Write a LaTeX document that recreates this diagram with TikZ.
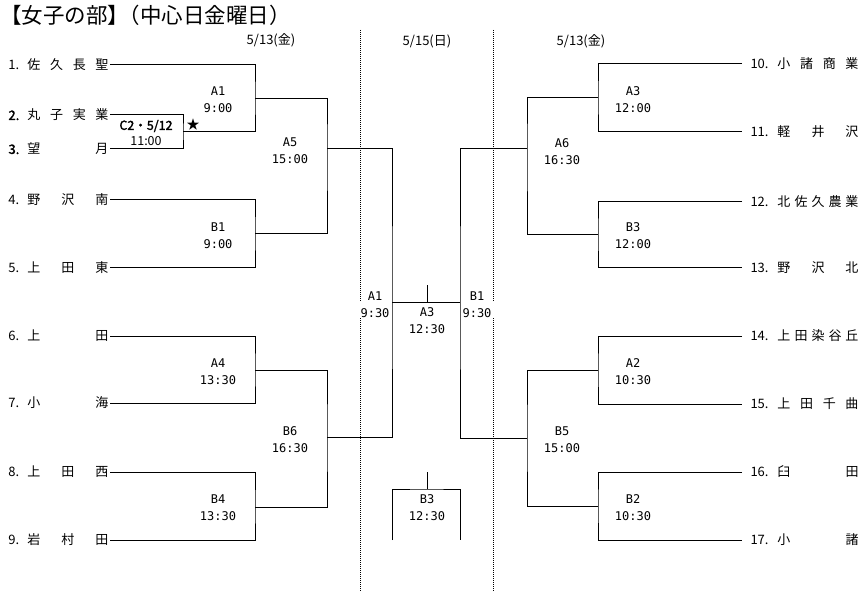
\documentclass[tikz,border=0pt]{standalone}
\usepackage{fontspec}
\setmainfont{Noto Sans CJK JP}[AutoFakeBold=2]
\newfontfamily\gamefont{DejaVu Sans Mono}
\newcommand{\tmL}[2]{\makebox[19pt][l]{#1}\makebox[81pt][s]{#2}}
\newcommand{\tmR}[2]{\makebox[27pt][l]{#1}\makebox[81pt][s]{#2}}

\begin{document}
\begin{tikzpicture}[x=1pt,y=-1pt,line width=1pt,font=\fontsize{13pt}{17pt}\selectfont]
        \tikzstyle{teamL}=[anchor=west,inner xsep=1pt,inner ysep=0pt]
        \tikzstyle{teamR}=[anchor=west,inner xsep=8pt,inner ysep=0pt]
        \tikzstyle{game}=[align=center,inner sep=0pt,font=\gamefont\fontsize{12pt}{17pt}\selectfont]
        \tikzstyle{day}=[line width=0.8pt,dash pattern=on 1pt off 1pt]
        \useasboundingbox (0,0) rectangle (865,596);

        \node [anchor=west,inner sep=0pt,font=\fontsize{21.5pt}{24pt}\selectfont] (title) at (0,15) {【女子の部】\hspace{-0.5em}（中心日金曜日）};
        \node (d1) at (271,40) {5/13(金)};
        \node (d2) at (427,41) {5/15(日)};
        \node (d3) at (581,41) {5/13(金)};

        % day borders
        \coordinate (v1t) at (360,30);  \coordinate (v1m) at (360,302);
        \coordinate (v1n) at (360,318); \coordinate (v1b) at (360,592);
        \coordinate (v2t) at (493,30);  \coordinate (v2m) at (493,302);
        \coordinate (v2n) at (493,318); \coordinate (v2b) at (493,592);
        \draw [day] (v1t) -- (v1m) (v1n) -- (v1b);
        \draw [day] (v2t) -- (v2m) (v2n) -- (v2b);

        % left teams
        \node [teamL] (t1) at (7,65)  {\tmL{1.}{佐\hfill 久\hfill 長\hfill 聖}};
        \node [teamL] (t2) at (7,115) {\tmL{\textbf{2.}}{丸\hfill 子\hfill 実\hfill 業}};
        \node [teamL] (t3) at (7,149) {\tmL{\textbf{3.}}{望\hfill 月}};
        \node [teamL] (t4) at (7,200) {\tmL{4.}{野\hfill 沢\hfill 南}};
        \node [teamL] (t5) at (7,268) {\tmL{5.}{上\hfill 田\hfill 東}};
        \node [teamL] (t6) at (7,336) {\tmL{6.}{上\hfill 田}};
        \node [teamL] (t7) at (7,403) {\tmL{7.}{小\hfill 海}};
        \node [teamL] (t8) at (7,472) {\tmL{8.}{上\hfill 田\hfill 西}};
        \node [teamL] (t9) at (7,540) {\tmL{9.}{岩\hfill 村\hfill 田}};

        % right teams
        \node [teamR] (t10) at (742,64)  {\tmR{10.}{小\hfill 諸\hfill 商\hfill 業}};
        \node [teamR] (t11) at (742,132) {\tmR{11.}{軽\hfill 井\hfill 沢}};
        \node [teamR] (t12) at (742,202) {\tmR{12.}{北\hfill 佐\hfill 久\hfill 農\hfill 業}};
        \node [teamR] (t13) at (742,268) {\tmR{13.}{野\hfill 沢\hfill 北}};
        \node [teamR] (t14) at (742,336) {\tmR{14.}{上\hfill 田\hfill 染\hfill 谷\hfill 丘}};
        \node [teamR] (t15) at (742,404) {\tmR{15.}{上\hfill 田\hfill 千\hfill 曲}};
        \node [teamR] (t16) at (742,472) {\tmR{16.}{臼\hfill 田}};
        \node [teamR] (t17) at (742,540) {\tmR{17.}{小\hfill 諸}};

        % joints
        \coordinate (c2) at (183,132);
        \coordinate (a1) at (255,98.5);
        \coordinate (b1) at (255,234);
        \coordinate (a4) at (255,370);
        \coordinate (b4) at (255,507);
        \coordinate (a5) at (327,149);
        \coordinate (b6) at (327,437);
        \coordinate (semiL) at (392,302);
        \coordinate (semiR) at (460,302);
        \coordinate (fin) at (427,285);
        \coordinate (a3) at (598,98);
        \coordinate (b3) at (598,235);
        \coordinate (a2) at (598,370);
        \coordinate (b2) at (598,506);
        \coordinate (a6) at (527,149);
        \coordinate (b5) at (527,438);
        \coordinate (third) at (427,472);
        \coordinate (thirdtop) at (427,489);
        \coordinate (thirdL) at (392,540);
        \coordinate (thirdR) at (460,540);

        \draw (t2.east) -| (c2) |- (t3.east);
        \draw (t1.east) -| (a1) |- (c2);
        \draw (t4.east) -| (b1) |- (t5.east);
        \draw (t6.east) -| (a4) |- (t7.east);
        \draw (t8.east) -| (b4) |- (t9.east);
        \draw (a1) -| (a5) |- (b1);
        \draw (a4) -| (b6) |- (b4);
        \draw (a5) -| (semiL) |- (b6);
        \draw (t10.west) -| (a3) |- (t11.west);
        \draw (t12.west) -| (b3) |- (t13.west);
        \draw (t14.west) -| (a2) |- (t15.west);
        \draw (t16.west) -| (b2) |- (t17.west);
        \draw (a3) -| (a6) |- (b3);
        \draw (a2) -| (b5) |- (b2);
        \draw (a6) -| (semiR) |- (b5);
        \draw (semiL) -- (semiR);
        \draw (fin) -- (fin |- semiL);
        \draw (thirdL) |- (thirdtop) -| (thirdR);
        \draw (third) -- (thirdtop);

        % games
        \node [align=center,inner sep=0pt,font=\fontsize{12.5pt}{16pt}\selectfont] (gC2) at (146,133) {\textbf{C2・5/12}\\11:00};
        \node [inner sep=0pt] (star) at (193,125) {★};
        \node [game] (gA1) at (218,100) {A1\\9:00};
        \node [game] (gB1) at (218,235.5) {B1\\9:00};
        \node [game] (gA4) at (218,372) {A4\\13:30};
        \node [game] (gB4) at (218,508) {B4\\13:30};
        \node [game] (gA5) at (290,150.5) {A5\\15:00};
        \node [game] (gB6) at (290,440) {B6\\16:30};
        \node [game] (sA1) at (375,296) {A1};
        \node [game] (sA1t) at (375,313) {9:30};
        \node [game] (sB1) at (477,296) {B1};
        \node [game] (sB1t) at (477,313) {9:30};
        \node [game] (gF) at (427,321) {A3\\12:30};
        \node [game] (gT) at (427,508) {B3\\12:30};
        \node [game] (gA6) at (562,151.5) {A6\\16:30};
        \node [game] (gB5) at (562,439.5) {B5\\15:00};
        \node [game] (gA3) at (633,100) {A3\\12:00};
        \node [game] (gB3) at (633,235.5) {B3\\12:00};
        \node [game] (gA2) at (633,371.5) {A2\\10:30};
        \node [game] (gB2) at (633,507.5) {B2\\10:30};
\end{tikzpicture}
\end{document}
